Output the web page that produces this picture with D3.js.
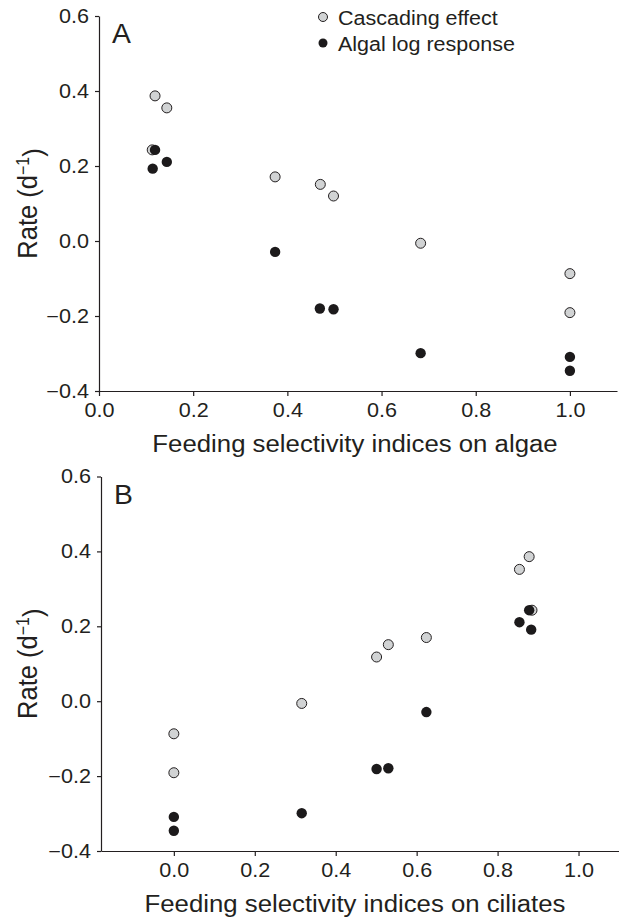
<!DOCTYPE html>
<html>
<head>
<meta charset="utf-8">
<script src="https://cdn.jsdelivr.net/npm/d3@7"></script>
<style>
  body { margin: 0; background: #fff; }
  svg text { font-family: "Liberation Sans", Arial, sans-serif; fill: #231f20; }
  .axis path, .axis line { stroke: #231f20; stroke-width: 1.2; }
  .axis text { font-size: 19.3px; }
  .axes-labels { font-size: 23px; }
</style>
</head>
<body>
<svg id="chart" width="619" height="920"></svg>
<script>
// tick values shared by both panels
var yTicks = [-0.4, -0.2, 0.0, 0.2, 0.4, 0.6];
var xTicks = [0.0, 0.2, 0.4, 0.6, 0.8, 1.0];

// Panel A: feeding selectivity on algae  [x, rate]
var cascadeA = [[0.119, 0.387], [0.144, 0.355], [0.113, 0.243], [0.374, 0.171],
                [0.470, 0.151], [0.498, 0.120], [0.683, -0.006], [1.0, -0.087], [1.0, -0.191]];
var algalA = [[0.119, 0.243], [0.144, 0.211], [0.114, 0.193], [0.374, -0.029],
              [0.469, -0.180], [0.498, -0.182], [0.683, -0.299], [1.0, -0.309], [1.0, -0.346]];

// Panel B: feeding selectivity on ciliates  [x, rate]
var cascadeB = [[0.878, 0.386], [0.854, 0.352], [0.885, 0.243], [0.501, 0.118],
                [0.530, 0.151], [0.624, 0.170], [0.316, -0.006], [0.0, -0.087], [0.0, -0.191]];
var algalB = [[0.878, 0.243], [0.854, 0.211], [0.883, 0.191], [0.624, -0.029],
              [0.501, -0.181], [0.530, -0.179], [0.316, -0.299], [0.0, -0.309], [0.0, -0.346]];

var legendItems = ["Cascading effect", "Algal log response"];
var GRAY = "#d1d3d4", BLACK = "#1c1a1b";
var STRETCH = 1.12;   // the figure is a bit wider than tall, text included

var svg = d3.select("#chart");

/**
 * Widens horizontal text glyphs by factor k
 */
function widen(sel, k) {
  sel.each(function() {
    var w = this.getComputedTextLength();
    d3.select(this).attr("textLength", w * k).attr("lengthAdjust", "spacingAndGlyphs");
  });
}

function drawPanel(opts) {
  var x = d3.scaleLinear().domain(opts.xDomain).range(opts.xRange);
  var y = d3.scaleLinear().domain([-0.4, 0.6]).range(opts.yRange);
  var fmt = d => d3.format(".1f")(d).replace("-", "\u2212");
  var g = svg.append("g");

  g.append("g")
    .attr("class", "axis")
    .attr("transform", "translate(0," + opts.yRange[0] + ")")
    .call(d3.axisBottom(x).tickValues(xTicks).tickFormat(fmt)
      .tickSize(5).tickSizeOuter(0).tickPadding(7))
    .call(a => widen(a.selectAll("text"), STRETCH));

  g.append("g")
    .attr("class", "axis")
    .attr("transform", "translate(" + opts.xRange[0] + ",0)")
    .call(d3.axisLeft(y).tickValues(yTicks).tickSize(4).tickSizeOuter(0).tickPadding(6)
      .tickFormat(fmt))
    .call(a => widen(a.selectAll("text"), STRETCH));

  // x-axis title
  g.append("text")
    .attr("x", 355).attr("y", opts.xLabelY)
    .style("text-anchor", "middle")
    .text(opts.xLabel)
    .classed("axes-labels", true)
    .call(t => widen(t, STRETCH));

  // y-axis title
  var yl = g.append("text")
    .attr("transform", "translate(37," + ((opts.yRange[0] + opts.yRange[1]) / 2) + ") scale(" + STRETCH + ",1) rotate(-90)")
    .style("text-anchor", "middle")
    .style("font-size", "25.5px");
  yl.append("tspan").text("Rate (d");
  yl.append("tspan").attr("dy", "-0.45em").style("font-size", "16px").text("\u22121");
  yl.append("tspan").attr("dy", "0.45em").text(")");

  // panel letter
  g.append("text")
    .attr("x", opts.xRange[0] + 13).attr("y", opts.yRange[1] + 27)
    .style("font-size", "27px")
    .text(opts.letter)
    .call(t => widen(t, 1.05));

  g.selectAll(".casc").data(opts.cascade).enter().append("circle")
    .attr("cx", d => x(d[0])).attr("cy", d => y(d[1])).attr("r", 5)
    .attr("fill", GRAY).attr("stroke", "#231f20").attr("stroke-width", 1);
  g.selectAll(".alg").data(opts.algal).enter().append("circle")
    .attr("cx", d => x(d[0])).attr("cy", d => y(d[1])).attr("r", 5.2)
    .attr("fill", BLACK);
}

drawPanel({ xDomain: [0, 1.1], xRange: [99, 617], yRange: [391, 16],
  xLabel: "Feeding selectivity indices on algae", xLabelY: 452, letter: "A",
  cascade: cascadeA, algal: algalA });

drawPanel({ xDomain: [-0.18, 1.1], xRange: [101, 619], yRange: [851, 476.5],
  xLabel: "Feeding selectivity indices on ciliates", xLabelY: 912, letter: "B",
  cascade: cascadeB, algal: algalB });

// legend
var leg = svg.append("g").attr("transform", "translate(323,17)");
leg.selectAll("circle").data(legendItems).enter().append("circle")
  .attr("cx", 0).attr("cy", (d, i) => i * 26).attr("r", 4.5)
  .attr("fill", (d, i) => i === 0 ? GRAY : BLACK)
  .attr("stroke", (d, i) => i === 0 ? "#231f20" : "none");
leg.selectAll("text").data(legendItems).enter().append("text")
  .attr("x", 15).attr("y", (d, i) => i * 26 + 7.5)
  .style("font-size", "20px")
  .text(d => d)
  .call(t => widen(t, 1.075));
</script>
</body>
</html>
